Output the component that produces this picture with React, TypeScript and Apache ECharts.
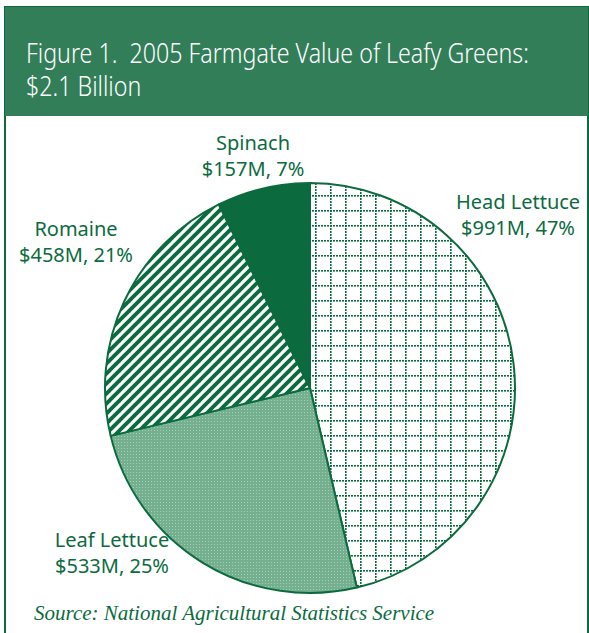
import React, { useEffect, useRef } from "react";
import * as echarts from "echarts";

const CATEGORIES = ["Head Lettuce", "Leaf Lettuce", "Romaine", "Spinach"];
const VALUES_M = [991, 533, 458, 157];
const PERCENTS = [47, 25, 21, 7];
const TITLE_LINES = ["Figure 1.  2005 Farmgate Value of Leafy Greens:", "$2.1 Billion"];
const SOURCE = "Source: National Agricultural Statistics Service";

const DARK = "#0b6b3e";
const BAND = "#327e59";

// label anchor positions (layout only)
const LABEL_POS: [number, number][] = [
  [518, 214],
  [112, 552],
  [76, 241],
  [253, 155],
];

function tile(w: number, h: number, draw: (c: CanvasRenderingContext2D) => void) {
  const cv = document.createElement("canvas");
  cv.width = w;
  cv.height = h;
  const ctx = cv.getContext("2d")!;
  draw(ctx);
  return { image: cv.toDataURL(), repeat: "repeat", imageWidth: w, imageHeight: h } as any;
}

function makePatterns() {
  const grid = tile(15, 15, (c) => {
    c.fillStyle = "#ffffff";
    c.fillRect(0, 0, 15, 15);
    c.fillStyle = DARK;
    for (let i = 0; i < 15; i += 3) {
      c.fillRect(i, 0, 2, 1.6);
      c.fillRect(0, i, 1.6, 2);
    }
  });
  const dots = tile(3, 3, (c) => {
    c.fillStyle = "#74b090";
    c.fillRect(0, 0, 3, 3);
    c.fillStyle = "#a3cfb7";
    c.fillRect(1, 1, 1, 1);
  });
  const stripes = tile(10, 10, (c) => {
    c.fillStyle = "#ffffff";
    c.fillRect(0, 0, 10, 10);
    c.strokeStyle = DARK;
    c.lineWidth = 3.8;
    for (let k = -2; k <= 2; k++) {
      c.beginPath();
      c.moveTo(-10 + k * 10, 20);
      c.lineTo(20 + k * 10, -10);
      c.stroke();
    }
  });
  return [grid, dots, stripes, DARK];
}

export default function App() {
  const ref = useRef<HTMLDivElement>(null);
  useEffect(() => {
    if (!ref.current) return;
    const chart = echarts.init(ref.current, undefined, { renderer: "svg" });
    const fills = makePatterns();
    const data = CATEGORIES.map((name, i) => ({
      name,
      value: VALUES_M[i],
      itemStyle: { color: fills[i] },
    }));
    chart.setOption({
      animation: false,
      backgroundColor: "#ffffff",
      graphic: [
        {
          type: "rect",
          z: -10,
          shape: { x: 5, y: 7, width: 583, height: 640 },
          style: { fill: "#ffffff", stroke: DARK, lineWidth: 2 },
        },
        {
          type: "rect",
          z: -9,
          shape: { x: 5, y: 7, width: 583, height: 109 },
          style: { fill: BAND },
        },
        {
          type: "text",
          x: 26,
          y: 36,
          scaleX: 0.86,
          style: {
            text: TITLE_LINES.join("\n"),
            fill: "#ffffff",
            font: "300 27px 'Noto Sans', sans-serif",
            lineHeight: 33,
          },
        },
        {
          type: "text",
          left: 34,
          top: 602,
          style: {
            text: SOURCE,
            fill: DARK,
            font: "italic 21px 'Liberation Serif', serif",
          },
        },
      ],
      series: [
        {
          type: "pie",
          center: [310, 388],
          radius: 205,
          startAngle: 90,
          clockwise: true,
          data,
          itemStyle: { borderColor: DARK, borderWidth: 2 },
          emphasis: { disabled: true },
          labelLine: { show: false },
          label: {
            show: true,
            position: "inside",
            overflow: "none",
            color: DARK,
            fontSize: 20,
            fontFamily: "'Noto Sans', sans-serif",
            lineHeight: 26,
            align: "center",
            formatter: (p: any) =>
              `${p.name}\n$${VALUES_M[p.dataIndex]}M, ${PERCENTS[p.dataIndex]}%`,
          },
          labelLayout: (p: any) => ({
            x: LABEL_POS[p.dataIndex][0],
            y: LABEL_POS[p.dataIndex][1],
            align: "center",
            verticalAlign: "middle",
          }),
        },
      ],
    });
    return () => chart.dispose();
  }, []);
  return (
    <div
      ref={ref}
      style={{ position: "fixed", left: 0, top: 0, width: 589, height: 633 }}
    />
  );
}
